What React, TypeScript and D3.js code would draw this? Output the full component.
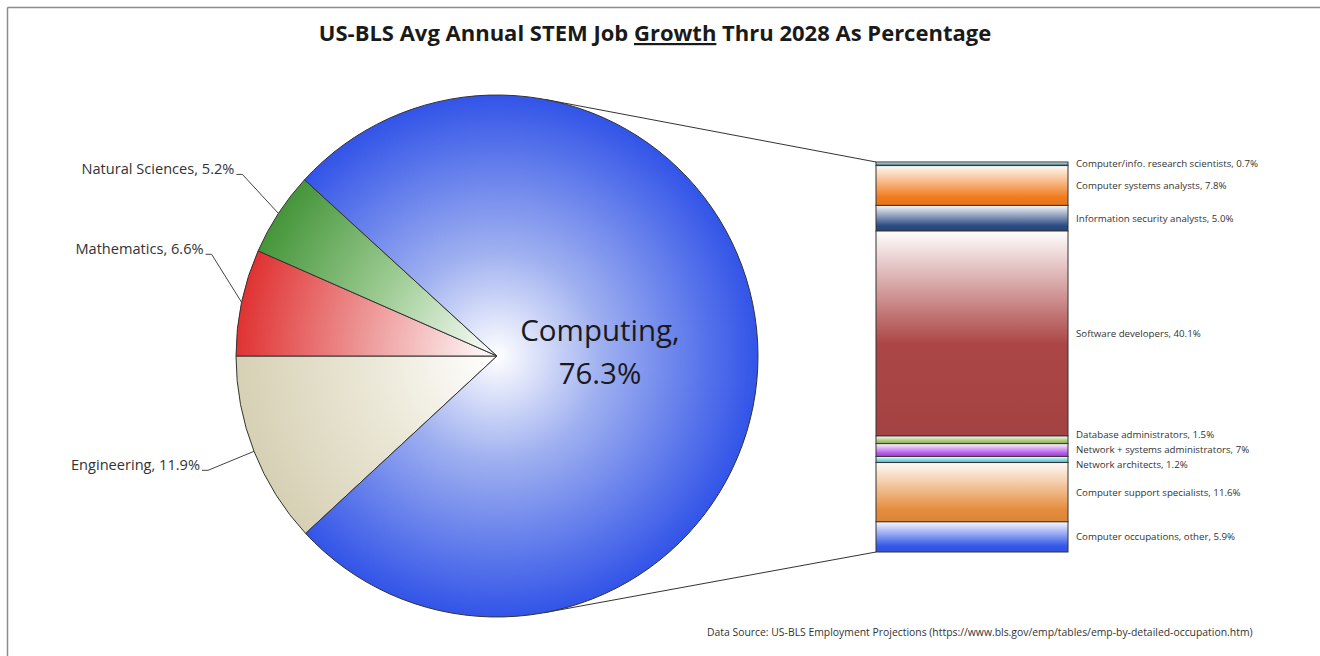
import React from "react";
import * as d3 from "d3";

const pieCategories = ["Engineering", "Mathematics", "Natural Sciences", "Computing"];
const pieValues = [11.9, 6.6, 5.2, 76.3];

const barCategories = [
  "Computer/info. research scientists",
  "Computer systems analysts",
  "Information security analysts",
  "Software developers",
  "Database administrators",
  "Network + systems administrators",
  "Network architects",
  "Computer support specialists",
  "Computer occupations, other",
];
const barValues = [0.7, 7.8, 5.0, 40.1, 1.5, 2.5, 1.2, 11.6, 5.9];
const barValueLabels = ["0.7%", "7.8%", "5.0%", "40.1%", "1.5%", "7%", "1.2%", "11.6%", "5.9%"];

const title = ["US-BLS Avg Annual STEM Job ", "Growth", " Thru 2028 As Percentage"];
const source =
  "Data Source: US-BLS Employment Projections (https://www.bls.gov/emp/tables/emp-by-detailed-occupation.htm)";

const W = 1320;
const H = 656;
const FONT = "'Open Sans', 'Noto Sans', sans-serif";

const pieColors = ["#d6d0b4", "#e03232", "#45953a", "#3254e8"];
const pieMid = ["#ebe7d6", "#ee9a9a", "#9ccb92", "#9fb0f0"];
const barColors = ["#3f7f8f", "#f07a1c", "#2a4a82", "#ac4646", "#98bb5a", "#b24ee6", "#5cc4d8", "#e58c3c", "#3458e8"];
const labelOffsets = [
  { dx: -54, dy: 19 },
  { dx: -38, dy: -48 },
  { dx: -44, dy: -39 },
];

export default function App() {
  const cx = 497;
  const cy = 356;
  const R = 261;

  const start = 1.5 * Math.PI - (pieValues[0] / 100) * 2 * Math.PI;
  const pie = d3
    .pie<number>()
    .sort(null)
    .startAngle(start)
    .endAngle(start + 2 * Math.PI);
  const arcs = pie(pieValues);
  const arcGen = d3.arc<d3.PieArcDatum<number>>().innerRadius(0).outerRadius(R);

  // bar
  const barX = 876;
  const barW = 192;
  const total = d3.sum(barValues);
  const y = d3.scaleLinear().domain([0, total]).range([162, 552]);
  const cum = d3.cumsum(barValues);
  const segs = barValues.map((v, i) => {
    const y0 = y(cum[i] - v);
    const y1 = y(cum[i]);
    return { y0, y1, c: (y0 + y1) / 2 };
  });
  const ly = segs.map((s) => s.c);
  const gap = 15;
  for (let it = 0; it < 200; it++) {
    let moved = false;
    for (let i = 1; i < ly.length; i++) {
      const d = ly[i] - ly[i - 1];
      if (d < gap - 0.01) {
        const s = (gap - d) / 2;
        ly[i - 1] -= s;
        ly[i] += s;
        moved = true;
      }
    }
    if (!moved) break;
  }

  const tangent = (px: number, py: number, up: boolean) => {
    const dx = px - cx;
    const dy = py - cy;
    const d = Math.hypot(dx, dy);
    const base = Math.atan2(dy, dx);
    const a = Math.acos(R / d);
    const ang = up ? base - a : base + a;
    return [cx + R * Math.cos(ang), cy + R * Math.sin(ang)];
  };
  const tTop = tangent(barX, y(0), true);
  const tBot = tangent(barX, y(total), false);

  return (
    <svg
      width={W}
      height={H}
      style={{ position: "absolute", left: 0, top: 0, background: "#fff" }}
      fontFamily={FONT}
    >
      <defs>
        {pieColors.map((c, i) => (
          <radialGradient key={i} id={`pg${i}`} gradientUnits="userSpaceOnUse" cx={0} cy={0} r={R}>
            <stop offset="0" stopColor="#ffffff" />
            <stop offset={i === 3 ? "0.4" : "0.5"} stopColor={pieMid[i]} />
            <stop offset="1" stopColor={c} />
          </radialGradient>
        ))}
        {barColors.map((c, i) => (
          <linearGradient key={i} id={`bg${i}`} x1="0" y1="0" x2="0" y2="1">
            <stop offset="0" stopColor="#ffffff" />
            <stop offset="0.05" stopColor={d3.interpolateRgb("#ffffff", c)(0.1)} />
            <stop offset={i === 3 ? "0.55" : "0.8"} stopColor={c} />
            <stop offset="1" stopColor={d3.color(c)!.darker(0.15).formatHex()} />
          </linearGradient>
        ))}
      </defs>

      <line x1={7.5} y1={7.5} x2={W} y2={7.5} stroke="#8c8c8c" strokeWidth={1.5} />
      <line x1={7.5} y1={7.5} x2={7.5} y2={H} stroke="#8c8c8c" strokeWidth={1.5} />

      <text x={655} y={41} textAnchor="middle" fontSize={22} fontWeight="bold" fill="#1a1a1a">
        <tspan>{title[0]}</tspan>
        <tspan style={{ textDecoration: "underline" }}>{title[1]}</tspan>
        <tspan>{title[2]}</tspan>
      </text>

      <line x1={tTop[0]} y1={tTop[1]} x2={barX} y2={y(0)} stroke="#333" strokeWidth={1} />
      <line x1={tBot[0]} y1={tBot[1]} x2={barX} y2={y(total)} stroke="#333" strokeWidth={1} />

      <g transform={`translate(${cx},${cy})`}>
        {arcs.map((a, i) => (
          <path key={i} d={arcGen(a) || ""} fill={`url(#pg${i})`} stroke="#333" strokeWidth={1} />
        ))}
      </g>

      {arcs.slice(0, 3).map((a, i) => {
        const mid = (a.startAngle + a.endAngle) / 2;
        const px = cx + R * Math.sin(mid);
        const py = cy - R * Math.cos(mid);
        const lx = px + labelOffsets[i].dx;
        const lyy = py + labelOffsets[i].dy;
        return (
          <g key={i}>
            <path
              d={`M${lx + 2},${lyy} L${lx + 8},${lyy} L${px},${py}`}
              fill="none"
              stroke="#444"
              strokeWidth={1}
            />
            <text x={lx} y={lyy} textAnchor="end" fontSize={14.6} fill="#333">
              {`${pieCategories[i]}, ${pieValues[i]}%`}
            </text>
          </g>
        );
      })}

      <text x={600} y={341} textAnchor="middle" fontSize={29.5} fill="#1a1a1a">
        {`${pieCategories[3]},`}
      </text>
      <text x={600} y={384} textAnchor="middle" fontSize={29.5} fill="#1a1a1a">
        {`${pieValues[3]}%`}
      </text>

      {segs.map((s, i) => (
        <rect
          key={i}
          x={barX}
          y={s.y0}
          width={barW}
          height={s.y1 - s.y0}
          fill={`url(#bg${i})`}
          stroke="#333"
          strokeWidth={1}
        />
      ))}
      {segs.map((s, i) => (
        <text key={i} x={barX + barW + 8} y={ly[i]} dy="0.35em" fontSize={9.7} fill="#333">
          {`${barCategories[i]}, ${barValueLabels[i]}`}
        </text>
      ))}

      <text x={707} y={636} fontSize={10.4} fill="#333">
        {source}
      </text>
    </svg>
  );
}
